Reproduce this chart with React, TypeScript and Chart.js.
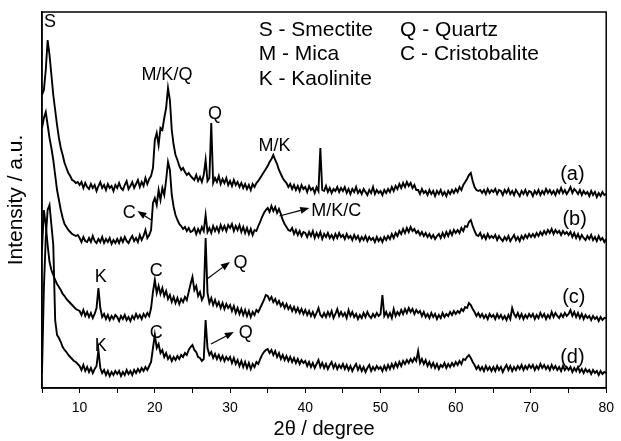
import React, { useEffect, useRef } from 'react';
import { Chart, registerables } from 'chart.js';

Chart.register(...registerables);

const FONT = '"Liberation Sans", Arial, Helvetica, sans-serif';

// 2θ grid (degrees), 0.25° steps from 5 to 80
const twoTheta: number[] = Array.from({ length: 301 }, (_, i) => 5 + i * 0.25);

// Intensity (a.u., curves offset vertically as in the figure)
const seriesA: number[] = [
  293, 298, 318, 348, 333, 313, 293, 278, 263, 250, 240, 233, 225, 220, 215, 212, 208, 207, 205, 206,
  203, 206, 200, 205, 201, 199, 204, 200, 203, 197, 202, 206, 200, 203, 198, 204, 200, 202, 197, 203,
  200, 205, 200, 198, 203, 207, 199, 202, 206, 200, 204, 208, 201, 206, 202, 210, 204, 209, 212, 220,
  248, 255, 243, 260, 258, 270, 280, 300, 288, 258, 243, 233, 228, 222, 218, 220, 216, 213, 215, 212,
  210, 208, 213, 207, 211, 206, 213, 228, 207, 210, 265, 205, 210, 206, 212, 204, 209, 205, 210, 203,
  207, 202, 208, 203, 206, 201, 205, 200, 204, 199, 203, 198, 204, 201, 205, 207, 210, 213, 216, 219,
  222, 226, 229, 233, 228, 224, 218, 214, 210, 207, 205, 201, 204, 199, 203, 198, 202, 197, 203, 199,
  201, 196, 202, 198, 200, 195, 201, 197, 240, 198, 197, 202, 196, 200, 195, 199, 197, 201, 196, 200,
  197, 201, 195, 199, 194, 199, 196, 201, 195, 198, 194, 199, 196, 193, 198, 195, 201, 194, 198, 195,
  197, 193, 198, 195, 199, 196, 201, 197, 202, 199, 204, 200, 205, 201, 206, 202, 205, 200, 203, 198,
  198, 194, 199, 195, 197, 193, 198, 194, 197, 192, 197, 194, 198, 193, 196, 192, 197, 194, 198, 195,
  199, 196, 201, 198, 203, 206, 209, 213, 215, 207, 201, 198, 197, 198, 195, 198, 194, 199, 195, 198,
  196, 199, 194, 198, 197, 193, 198, 195, 199, 194, 197, 193, 198, 195, 192, 197, 194, 198, 193, 197,
  196, 192, 197, 194, 198, 193, 197, 194, 199, 195, 198, 194, 197, 193, 198, 195, 200, 195, 198, 194,
  197, 201, 195, 199, 197, 194, 198, 193, 197, 194, 196, 192, 197, 193, 196, 191, 195, 192, 196, 193,
  194,
];

const seriesB: number[] = [
  260, 270, 276, 263, 250, 240, 228, 213, 198, 188, 178, 170, 164, 161, 158, 156, 154, 153, 152, 153,
  150, 146, 151, 147, 146, 150, 146, 152, 147, 145, 149, 146, 151, 145, 149, 146, 150, 144, 148, 145,
  149, 145, 150, 146, 151, 147, 145, 149, 152, 147, 150, 146, 153, 148, 152, 158, 150, 153, 158, 185,
  190, 183, 198, 188, 200, 193, 208, 226, 218, 193, 181, 173, 168, 164, 162, 159, 161, 157, 160, 156,
  157, 160, 154, 159, 155, 161, 157, 173, 156, 160, 155, 162, 157, 161, 156, 163, 158, 162, 157, 163,
  160, 164, 157, 162, 158, 163, 156, 161, 155, 160, 154, 159, 153, 158, 157, 162, 166, 171, 175, 178,
  180, 176, 182, 177, 181, 175, 179, 174, 168, 164, 161, 158, 157, 160, 154, 158, 153, 157, 152, 156,
  155, 151, 156, 152, 157, 150, 155, 151, 156, 149, 154, 151, 155, 150, 153, 149, 154, 150, 155, 151,
  153, 149, 154, 150, 152, 148, 153, 149, 152, 147, 151, 148, 152, 147, 151, 148, 150, 146, 151, 147,
  150, 146, 151, 148, 152, 149, 154, 150, 155, 152, 157, 154, 159, 155, 160, 156, 161, 157, 159, 155,
  157, 153, 156, 152, 155, 151, 154, 150, 153, 149, 152, 154, 150, 155, 151, 156, 152, 157, 153, 158,
  155, 158, 155, 160, 157, 162, 161, 166, 168, 162, 157, 153, 152, 155, 150, 153, 149, 154, 150, 152,
  150, 153, 148, 152, 149, 147, 151, 148, 152, 147, 150, 153, 148, 151, 147, 152, 149, 153, 150, 154,
  151, 154, 151, 155, 152, 156, 153, 157, 154, 158, 155, 159, 154, 158, 155, 157, 153, 157, 154, 156,
  153, 156, 151, 155, 150, 154, 149, 153, 150, 148, 152, 149, 153, 148, 151, 147, 152, 148, 150, 146,
  149,
];

const seriesC: number[] = [
  138, 178, 163, 143, 126, 118, 113, 108, 104, 101, 98, 94, 92, 89, 87, 85, 83, 81, 79, 78,
  77, 73, 78, 72, 76, 71, 75, 70, 74, 80, 100, 80, 71, 74, 69, 73, 68, 72, 69, 73,
  71, 67, 72, 69, 73, 68, 71, 67, 72, 69, 74, 70, 73, 69, 74, 71, 75, 72, 80, 96,
  108, 95, 102, 94, 100, 92, 97, 89, 93, 86, 91, 85, 90, 84, 89, 86, 91, 88, 96, 104,
  111, 98, 102, 92, 96, 88, 92, 150, 95, 85, 90, 83, 88, 82, 86, 80, 85, 79, 84, 80,
  83, 77, 82, 75, 80, 74, 79, 73, 78, 72, 77, 71, 76, 73, 78, 76, 80, 84, 88, 93,
  92, 88, 91, 86, 89, 84, 87, 82, 85, 80, 84, 79, 82, 77, 81, 76, 80, 75, 79, 74,
  78, 73, 77, 72, 76, 71, 75, 80, 73, 71, 75, 71, 76, 72, 77, 70, 74, 79, 72, 76,
  72, 75, 70, 78, 72, 76, 71, 74, 69, 73, 70, 75, 71, 76, 72, 70, 74, 71, 75, 72,
  74, 93, 72, 76, 71, 75, 70, 79, 72, 76, 73, 78, 74, 79, 75, 80, 76, 79, 74, 78,
  75, 77, 72, 76, 71, 74, 70, 75, 71, 74, 69, 73, 70, 75, 71, 74, 72, 76, 73, 77,
  74, 77, 75, 79, 77, 81, 80, 85, 83, 79, 76, 72, 75, 71, 74, 70, 73, 69, 74, 71,
  73, 69, 74, 70, 73, 69, 72, 68, 73, 69, 80, 74, 71, 75, 70, 74, 69, 73, 70, 74,
  71, 74, 69, 73, 70, 75, 71, 74, 69, 73, 70, 76, 71, 75, 72, 70, 74, 71, 75, 72,
  74, 78, 72, 76, 71, 75, 70, 74, 69, 73, 70, 72, 68, 72, 69, 71, 67, 71, 68, 70,
  70,
];

const seriesD: number[] = [
  15, 100, 150, 178, 183, 163, 143, 68, 53, 50, 46, 41, 38, 36, 33, 31, 29, 27, 26, 24,
  22, 18, 23, 17, 21, 16, 20, 15, 19, 22, 38, 20, 15, 18, 13, 17, 12, 16, 13, 17,
  14, 17, 12, 16, 13, 18, 14, 17, 13, 18, 15, 19, 16, 20, 17, 21, 18, 22, 26, 40,
  53, 40, 44, 35, 38, 31, 35, 29, 32, 27, 31, 28, 32, 29, 33, 31, 35, 33, 38, 41,
  43, 38, 36, 31, 30, 27, 29, 68, 40, 33, 36, 30, 34, 29, 33, 28, 32, 27, 31, 28,
  31, 25, 30, 24, 28, 22, 27, 21, 26, 20, 25, 19, 24, 21, 26, 24, 29, 33, 36, 38,
  39, 35, 38, 33, 37, 31, 35, 29, 33, 28, 32, 27, 31, 26, 30, 25, 29, 24, 28, 25,
  27, 22, 26, 21, 25, 20, 24, 28, 21, 25, 20, 24, 19, 23, 26, 20, 24, 19, 23, 20,
  24, 19, 23, 18, 22, 17, 21, 24, 18, 22, 17, 21, 16, 20, 23, 17, 21, 18, 22, 19,
  21, 17, 22, 18, 23, 19, 24, 20, 25, 21, 26, 22, 27, 24, 28, 25, 29, 26, 30, 27,
  37, 25, 29, 24, 28, 22, 26, 21, 25, 20, 24, 19, 23, 21, 25, 20, 24, 21, 25, 22,
  26, 23, 27, 24, 29, 28, 31, 33, 30, 26, 23, 19, 22, 18, 21, 17, 22, 18, 21, 17,
  21, 17, 22, 18, 21, 16, 20, 23, 18, 22, 17, 21, 18, 22, 19, 23, 18, 22, 19, 23,
  20, 23, 18, 22, 19, 24, 20, 23, 19, 22, 18, 23, 19, 22, 18, 21, 17, 22, 18, 21,
  18, 21, 16, 20, 17, 21, 16, 19, 15, 19, 16, 18, 14, 18, 15, 17, 13, 17, 14, 16,
  15,
];

const seriesNames = ['(a)', '(b)', '(c)', '(d)'];

// Text annotations in data coordinates [2θ, intensity]
const peakLabels: { text: string; at: [number, number] }[] = [
  { text: 'S', at: [6.06, 366] },
  { text: 'M/K/Q', at: [21.6, 313] },
  { text: 'Q', at: [28.0, 274] },
  { text: 'M/K', at: [35.9, 242] },
  { text: 'C', at: [16.6, 175] },
  { text: 'K', at: [12.8, 111] },
  { text: 'C', at: [20.2, 117] },
  { text: 'Q', at: [31.4, 125] },
  { text: 'K', at: [12.8, 42] },
  { text: 'C', at: [20.2, 55] },
  { text: 'Q', at: [32.1, 55] },
];
const leftLabels: { text: string; at: [number, number] }[] = [
  { text: 'M/K/C', at: [40.8, 177] },
];
const keyLines: { text: string; at: [number, number] }[] = [
  { text: 'S - Smectite', at: [33.8, 358] },
  { text: 'M - Mica', at: [33.8, 334] },
  { text: 'K - Kaolinite', at: [33.8, 309] },
  { text: 'Q - Quartz', at: [52.6, 358] },
  { text: 'C - Cristobalite', at: [52.6, 334] },
];
const curveTags: [number, number][] = [
  [75.5, 214],
  [75.8, 169],
  [75.7, 91],
  [75.5, 31],
];
const arrows: { from: [number, number]; to: [number, number] }[] = [
  { from: [19.53, 168], to: [17.68, 177] },
  { from: [36.57, 172], to: [40.53, 180] },
  { from: [26.93, 109], to: [29.97, 126] },
  { from: [27.46, 44], to: [30.5, 56] },
];

const overlayPlugin = {
  id: 'overlay',
  afterDatasetsDraw(chart: any) {
    const { ctx, chartArea: ca, scales } = chart;
    const xs = scales.x;
    const ys = scales.y;
    const px = (p: [number, number]) => [xs.getPixelForValue(p[0]), ys.getPixelForValue(p[1])];
    ctx.save();
    ctx.strokeStyle = '#000';
    ctx.lineWidth = 1.5;
    ctx.strokeRect(ca.left, ca.top, ca.right - ca.left, ca.bottom - ca.top);
    ctx.fillStyle = '#000';
    ctx.textBaseline = 'middle';

    ctx.font = `18px ${FONT}`;
    ctx.textAlign = 'center';
    peakLabels.forEach((l) => {
      const [x, y] = px(l.at);
      ctx.fillText(l.text, x, y);
    });
    ctx.textAlign = 'left';
    leftLabels.forEach((l) => {
      const [x, y] = px(l.at);
      ctx.fillText(l.text, x, y);
    });
    ctx.font = `21px ${FONT}`;
    keyLines.forEach((l) => {
      const [x, y] = px(l.at);
      ctx.fillText(l.text, x, y);
    });
    ctx.textAlign = 'center';
    ctx.font = `20px ${FONT}`;
    curveTags.forEach((p, i) => {
      const [x, y] = px(p);
      ctx.fillText(seriesNames[i], x, y);
    });

    ctx.lineWidth = 1.2;
    arrows.forEach((a) => {
      const [x0, y0] = px(a.from);
      const [x1, y1] = px(a.to);
      const ang = Math.atan2(y1 - y0, x1 - x0);
      const hl = 9;
      const hw = 3.5;
      const bx = x1 - hl * Math.cos(ang);
      const by = y1 - hl * Math.sin(ang);
      ctx.beginPath();
      ctx.moveTo(x0, y0);
      ctx.lineTo(bx, by);
      ctx.stroke();
      ctx.beginPath();
      ctx.moveTo(x1, y1);
      ctx.lineTo(bx + hw * Math.sin(ang), by - hw * Math.cos(ang));
      ctx.lineTo(bx - hw * Math.sin(ang), by + hw * Math.cos(ang));
      ctx.closePath();
      ctx.fill();
    });
    ctx.restore();
  },
};

export default function App() {
  const canvasRef = useRef<HTMLCanvasElement | null>(null);

  useEffect(() => {
    document.body.style.margin = '0';
    const canvas = canvasRef.current;
    if (!canvas) return;
    const all = [seriesA, seriesB, seriesC, seriesD];
    const chart = new Chart(canvas, {
      type: 'line',
      data: {
        datasets: all.map((s, k) => ({
          label: seriesNames[k],
          data: twoTheta.map((t, i) => ({ x: t, y: s[i] })),
          borderColor: '#000',
          borderWidth: 1.9,
          pointRadius: 0,
          tension: 0,
          fill: false,
        })),
      },
      options: {
        responsive: false,
        animation: false,
        devicePixelRatio: 1,
        layout: { padding: { left: 0, top: 12, right: 12, bottom: 0 } },
        plugins: { legend: { display: false }, tooltip: { enabled: false } },
        scales: {
          x: {
            type: 'linear',
            min: 5,
            max: 80,
            afterFit: (s: any) => {
              s.height = 53;
            },
            ticks: {
              stepSize: 5,
              autoSkip: false,
              maxRotation: 0,
              color: '#000',
              padding: 7,
              font: { size: 14, family: FONT },
              callback: (v: any) => (Number(v) % 10 === 0 ? String(v) : ''),
            },
            grid: { drawOnChartArea: false, drawTicks: true, tickLength: 5, color: '#000', lineWidth: 1 },
            border: { display: true, color: '#000', width: 1.5 },
            title: {
              display: true,
              text: '2θ / degree',
              color: '#000',
              font: { size: 20, family: FONT, lineHeight: 1.2 },
              padding: { top: 0, bottom: 0 },
            },
          },
          y: {
            min: 0,
            max: 376,
            afterFit: (s: any) => {
              s.width = 42;
            },
            ticks: { display: false },
            grid: { display: false },
            border: { display: true, color: '#000', width: 1.5 },
            title: {
              display: true,
              text: 'Intensity / a.u.',
              color: '#000',
              font: { size: 21, family: FONT, lineHeight: 1.2 },
              padding: { top: 4, bottom: 4 },
            },
          },
        },
      },
      plugins: [overlayPlugin],
    });
    return () => chart.destroy();
  }, []);

  return <canvas ref={canvasRef} width={621} height={441} style={{ display: 'block' }} />;
}
